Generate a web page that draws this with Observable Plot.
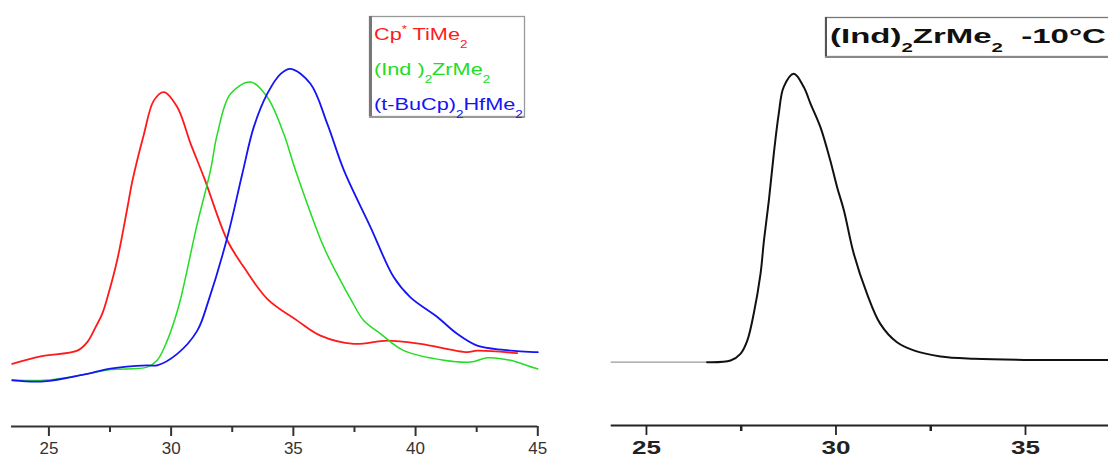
<!DOCTYPE html>
<html><head><meta charset="utf-8">
<script src="https://cdn.jsdelivr.net/npm/d3@7"></script>
<script src="https://cdn.jsdelivr.net/npm/@observablehq/plot@0.6"></script>
<style>
html,body{margin:0;padding:0;background:#fff;}
#chart{position:relative;width:1108px;height:457px;overflow:hidden;background:#fff;}
#chart > svg{position:absolute;top:0;}
</style></head><body><div id="chart"></div>
<script>
// ---- Left panel: three GPC traces (elution volume vs. signal, arbitrary units)
const leftTicksMajor = [25, 30, 35, 40, 45];
const leftTicksMinor = [27.5, 32.5, 37.5, 42.5];
const leftDomain = [23.47, 45];

const redX = [23.50, 24.66, 26.16, 26.57, 26.91, 27.18, 27.39, 27.79, 28.22, 28.41, 28.89, 29.29, 29.70, 30.25, 30.80, 31.34, 32.30, 32.98, 33.93, 35.16, 36.11, 37.47, 38.84, 40.20, 42.11, 42.52, 44.16];
const redY = [17.5, 19.6, 21.2, 23.6, 27.8, 31.5, 36.0, 46.4, 61.5, 68.5, 81.8, 91.1, 93.5, 89.3, 79.0, 69.7, 52.0, 44.5, 35.7, 29.6, 25.4, 23.1, 24.0, 23.1, 20.8, 21.2, 20.5];

const greenX = [23.50, 24.80, 26.42, 27.52, 29.02, 29.43, 29.84, 30.18, 30.39, 31.07, 31.61, 31.89, 32.43, 33.25, 33.93, 34.61, 35.09, 36.25, 36.93, 37.34, 37.88, 38.57, 39.52, 41.16, 42.25, 42.93, 43.88, 44.84, 45.0];
const greenY = [13.1, 12.9, 14.5, 15.9, 16.6, 18.5, 24.0, 30.6, 35.7, 56.7, 71.6, 81.8, 93.0, 96.3, 92.1, 81.8, 71.6, 50.1, 40.8, 35.7, 29.6, 25.9, 21.2, 18.5, 18.0, 19.2, 18.5, 16.4, 16.1];

const blueX = [23.50, 24.80, 26.42, 27.52, 29.02, 29.43, 30.25, 31.07, 31.53, 32.30, 32.91, 33.38, 33.93, 34.48, 34.89, 35.70, 36.39, 37.07, 38.16, 39.11, 39.79, 40.89, 41.70, 42.52, 43.61, 44.84, 45.0];
const blueY = [12.9, 12.6, 14.5, 16.2, 17.1, 17.1, 20.3, 26.8, 35.2, 52.9, 70.6, 83.7, 93.0, 98.6, 100, 95.8, 84.6, 71.6, 55.7, 41.7, 36.1, 30.6, 25.9, 22.6, 21.4, 20.8, 20.8];

const seriesNames = ["Cp*TiMe2", "(Ind)2ZrMe2", "(t-BuCp)2HfMe2"];
const seriesColors = ["#ff1a1a", "#22dd22", "#1414f5"];
const legendLabels = [
  [{t: "Cp"}, {t: "*", sup: true}, {t: " TiMe"}, {t: "2", sub: true}],
  [{t: "(Ind )"}, {t: "2", sub: true}, {t: "ZrMe"}, {t: "2", sub: true}],
  [{t: "(t-BuCp)"}, {t: "2", sub: true}, {t: "HfMe"}, {t: "2", sub: true}]
];

// ---- Right panel: (Ind)2ZrMe2 at -10 °C
const rightTicksMajor = [25, 30, 35];
const rightTicksMinor = [27.5, 32.5];
const rightDomain = [24.07, 37.19];
const rightX = [24.07, 26.60, 27.22, 27.48, 27.66, 27.83, 28.01, 28.10, 28.23, 28.36, 28.49, 28.62, 28.89, 29.15, 29.33, 29.59, 29.85, 30.03, 30.21, 30.47, 30.82, 31.17, 31.61, 32.05, 32.76, 33.64, 34.96, 37.19];
const rightY = [0, 0, 0.6, 2.9, 7.5, 16.8, 30.7, 42.2, 56.1, 72.3, 86.1, 95.4, 100, 95.4, 89.6, 81.5, 69.9, 60.7, 52.6, 37.6, 23.7, 13.3, 6.9, 4.1, 2.0, 1.2, 0.8, 0.8];
const rightBaselineEnd = 26.6;
const rightTitle = [{t: "(Ind)"}, {t: "2", sub: true}, {t: "ZrMe"}, {t: "2", sub: true}, {t: "  -10°C"}];
const rightYDomain = [-21.95, 100];

const toRows = (xs, ys) => xs.map((x, i) => ({x, y: ys[i]}));
const font = "'Liberation Sans', Arial, sans-serif";
const chart = document.getElementById("chart");

// Left plot
const leftSeries = [toRows(redX, redY), toRows(greenX, greenY), toRows(blueX, blueY)];
const leftWidths = [1.8, 1.5, 1.8];
const left = Plot.plot({
  width: 550, height: 457,
  marginLeft: 11, marginRight: 12.7, marginTop: 68.3, marginBottom: 31,
  x: {domain: leftDomain},
  y: {domain: [0, 100], axis: null},
  style: {fontFamily: font, fontSize: "17px", background: "transparent", overflow: "visible"},
  marks: [
    Plot.ruleY([0], {stroke: "#333", strokeWidth: 2}),
    Plot.axisX(leftTicksMajor, {tickSize: 10, tickPadding: 5, stroke: "#333", fill: "#333", strokeWidth: 2, fontSize: 17, label: null}),
    Plot.axisX(leftTicksMinor, {tickSize: 6, tickFormat: () => "", stroke: "#333", strokeWidth: 2, label: null}),
    ...leftSeries.map((rows, i) => Plot.line(rows, {x: "x", y: "y", stroke: seriesColors[i], strokeWidth: leftWidths[i], curve: "catmull-rom"}))
  ]
});
left.style.left = "0px";
chart.appendChild(left);

// Right plot
const rightRows = toRows(rightX, rightY);
const right = Plot.plot({
  width: 518, height: 457,
  marginLeft: 20.7, marginRight: 0, marginTop: 73.3, marginBottom: 32,
  x: {domain: rightDomain},
  y: {domain: rightYDomain, axis: null},
  style: {fontFamily: font, fontSize: "18px", background: "transparent", overflow: "visible"},
  marks: [
    Plot.ruleY([rightYDomain[0]], {stroke: "#222", strokeWidth: 2}),
    Plot.axisX(rightTicksMajor, {tickSize: 10, tickPadding: 6, stroke: "#222", fill: "#222", strokeWidth: 1.8, fontSize: 18, fontWeight: "bold", label: null}),
    Plot.axisX(rightTicksMinor, {tickSize: 6, tickFormat: () => "", stroke: "#222", strokeWidth: 2.5, label: null}),
    Plot.line(rightRows, {filter: d => d.x <= rightBaselineEnd, x: "x", y: "y", stroke: "#9a9a9a", strokeWidth: 1.2}),
    Plot.line(rightRows, {filter: d => d.x >= rightBaselineEnd, x: "x", y: "y", stroke: "#111", strokeWidth: 2, curve: "catmull-rom"})
  ]
});
right.style.left = "590px";
chart.appendChild(right);
right.querySelectorAll('g[aria-label="x-axis tick label"] text').forEach(t => {
  t.setAttribute("transform", (t.getAttribute("transform") || "") + " scale(1.45,1)");
});

// Overlay: legend box and title box (real text with sub/superscripts)
const ov = d3.select(chart).append("svg").attr("width", 1108).attr("height", 457)
  .style("left", "0px").style("pointer-events", "none");

function richText(x, y, parts, size, fill, weight) {
  const t = ov.append("text").attr("x", x).attr("y", y).attr("font-size", size)
    .attr("fill", fill).attr("font-weight", weight).attr("font-family", font)
    .style("white-space", "pre");
  let shift = 0;
  parts.forEach(p => {
    const target = p.sub ? 0.45 * size : p.sup ? -0.42 * size : 0;
    const ts = t.append("tspan").text(p.t).attr("dy", target - shift);
    if (p.sub || p.sup) ts.attr("font-size", size * 0.62);
    shift = target;
  });
  return t;
}
function stretch(t, x, k) {
  t.attr("transform", `translate(${x},0) scale(${k},1) translate(${-x},0)`);
}

// legend box
ov.append("rect").attr("x", 369.5).attr("y", 16.5).attr("width", 155).attr("height", 100)
  .attr("fill", "#fff").attr("stroke", "#999").attr("stroke-width", 1.3);
ov.append("line").attr("x1", 370.5).attr("x2", 370.5).attr("y1", 16).attr("y2", 118).attr("stroke", "#777").attr("stroke-width", 3);
ov.append("line").attr("x1", 369).attr("x2", 525).attr("y1", 117).attr("y2", 117).attr("stroke", "#999").attr("stroke-width", 2);
const legendBase = [40, 75, 110];
const legTexts = legendLabels.map((parts, i) => richText(374, legendBase[i], parts, 17, seriesColors[i], "normal"));
const legW = legTexts[2].node().getBBox().width;
const legK = 149 / legW;
legTexts.forEach(t => stretch(t, 374, legK));

// title box
ov.append("rect").attr("x", 825.5).attr("y", 17.5).attr("width", 300).attr("height", 39)
  .attr("fill", "#fff").attr("stroke", "#777").attr("stroke-width", 1.3);
ov.append("line").attr("x1", 826).attr("x2", 826).attr("y1", 17).attr("y2", 58).attr("stroke", "#555").attr("stroke-width", 2);
ov.append("line").attr("x1", 825).attr("x2", 1108).attr("y1", 57).attr("y2", 57).attr("stroke", "#888").attr("stroke-width", 2);
const title = richText(830, 43.5, rightTitle, 20, "#111", "bold");
const tW = title.node().getBBox().width;
stretch(title, 830, 276 / tW);
</script></body></html>
